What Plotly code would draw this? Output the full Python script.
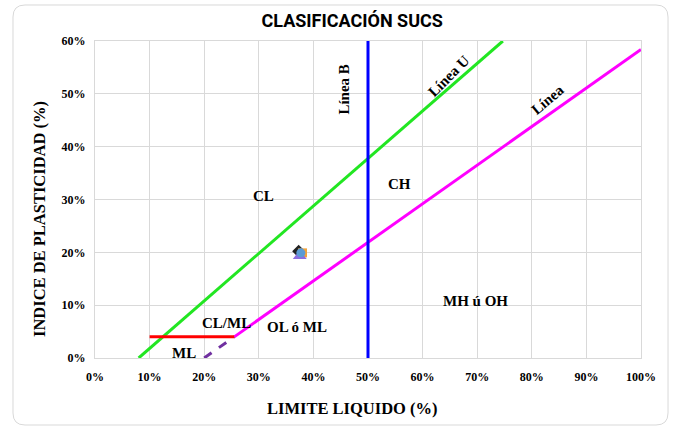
import plotly.graph_objects as go

# ---- data ----
x_ticks = [0, 10, 20, 30, 40, 50, 60, 70, 80, 90, 100]
y_ticks = [0, 10, 20, 30, 40, 50, 60]

linea_u_ll = [8, 74.7]
linea_u_pi = [0, 60]
linea_a_ll = [25.5, 100]
linea_a_pi = [4, 58.4]
linea_a_dash_ll = [20, 25.5]
linea_a_dash_pi = [0, 4]
linea_cl_ml_ll = [10, 25.5]
linea_cl_ml_pi = [4, 4]
linea_b_ll = [50, 50]
linea_b_pi = [0, 60]

muestra_ll = [37.3, 38.0, 37.5, 37.7]
muestra_pi = [20.2, 19.9, 19.3, 19.9]
muestra_symbols = ["diamond", "square", "triangle-up", "circle"]
muestra_colors = ["#222222", "#f2a33a", "#8b6fe0", "#5b9bd5"]
muestra_sizes = [10, 9, 12, 9]

zonas = ["CL", "CH", "MH ú OH", "OL ó ML", "CL/ML", "ML"]
zonas_ll = [30.8, 55.7, 69.6, 37.0, 24.0, 16.3]
zonas_pi = [30.7, 33.0, 10.8, 5.9, 6.6, 1.0]

fig = go.Figure()

fig.add_trace(go.Scatter(x=linea_u_ll, y=linea_u_pi, mode="lines",
                         line=dict(color="#22e622", width=3), showlegend=False))
fig.add_trace(go.Scatter(x=linea_a_ll, y=linea_a_pi, mode="lines",
                         line=dict(color="#ff00ff", width=3), showlegend=False))
fig.add_trace(go.Scatter(x=linea_a_dash_ll, y=linea_a_dash_pi, mode="lines",
                         line=dict(color="#7030a0", width=3, dash="dash"), showlegend=False))
fig.add_trace(go.Scatter(x=linea_cl_ml_ll, y=linea_cl_ml_pi, mode="lines",
                         line=dict(color="#ff0000", width=3), showlegend=False))
fig.add_trace(go.Scatter(x=linea_b_ll, y=linea_b_pi, mode="lines",
                         line=dict(color="#0000ff", width=3), showlegend=False))

for xv, yv, s, c, sz in zip(muestra_ll, muestra_pi, muestra_symbols, muestra_colors, muestra_sizes):
    fig.add_trace(go.Scatter(x=[xv], y=[yv], mode="markers",
                             marker=dict(symbol=s, color=c, size=sz), showlegend=False))

serif = "Liberation Serif, Times New Roman, serif"
for t, xv, yv in zip(zonas, zonas_ll, zonas_pi):
    fig.add_annotation(x=xv, y=yv, text="<b>%s</b>" % t, showarrow=False,
                       font=dict(family=serif, size=15, color="black"))

fig.add_annotation(x=45.6, y=50.8, text="<b>Línea B</b>", showarrow=False, textangle=-90,
                   font=dict(family=serif, size=15, color="black"))
fig.add_annotation(x=64.8, y=53.4, text="<b>Línea U</b>", showarrow=False, textangle=-45,
                   font=dict(family=serif, size=15, color="black"))
fig.add_annotation(x=82.8, y=48.9, text="<b>Línea</b>", showarrow=False, textangle=-40,
                   font=dict(family=serif, size=15, color="black"))

# axis titles (placed as in the reference, centred on the chart area)
fig.add_annotation(x=0.471, y=-0.158, xref="paper", yref="paper", showarrow=False,
                   text="<b>LIMITE LIQUIDO (%)</b>", yanchor="middle",
                   font=dict(family=serif, size=16.5, color="black"))
fig.add_annotation(x=-0.1007, y=0.4385, xref="paper", yref="paper", showarrow=False,
                   text="<b>INDICE DE PLASTICIDAD (%)</b>", textangle=-90,
                   xanchor="center", yanchor="middle",
                   font=dict(family=serif, size=16.5, color="black"))

# chart border (rounded)
L, R, T, B = -0.1502, 1.0495, 1.1136, -0.2114
rx, ry = 0.022, 0.038
path = (f"M {L+rx},{T} L {R-rx},{T} Q {R},{T} {R},{T-ry} L {R},{B+ry} Q {R},{B} {R-rx},{B} "
        f"L {L+rx},{B} Q {L},{B} {L},{B+ry} L {L},{T-ry} Q {L},{T} {L+rx},{T} Z")
fig.add_shape(type="path", path=path, xref="paper", yref="paper",
              line=dict(color="#d9d9d9", width=1), layer="below")

fig.update_layout(
    width=673, height=426,
    margin=dict(l=95, r=32, t=41, b=68),
    paper_bgcolor="white", plot_bgcolor="white",
    title=dict(text="<b>CLASIFICACIÓN SUCS</b>", x=0.471, xref="paper", xanchor="center",
               y=0.952, yanchor="middle",
               font=dict(family="Liberation Sans Narrow, Roboto, Liberation Sans, sans-serif",
                         size=18, color="black")),
    xaxis=dict(range=[0, 100], tickvals=x_ticks, ticktext=["<b>%d%%</b>" % v for v in x_ticks],
               showgrid=True, gridcolor="#d9d9d9", gridwidth=1, zeroline=False,
               showline=True, linecolor="#d9d9d9", mirror=True, ticks="",
               ticklabelstandoff=8,
               tickfont=dict(family=serif, size=12, color="black")),
    yaxis=dict(range=[0, 60], tickvals=y_ticks, ticktext=["<b>%d%%</b>" % v for v in y_ticks],
               showgrid=True, gridcolor="#d9d9d9", gridwidth=1, zeroline=False,
               showline=True, linecolor="#d9d9d9", mirror=True, ticks="",
               ticklabelstandoff=6,
               tickfont=dict(family=serif, size=12, color="black")),
)

fig.write_html("out.html", config={"displayModeBar": False},
               post_script="document.body.style.margin='0';")
